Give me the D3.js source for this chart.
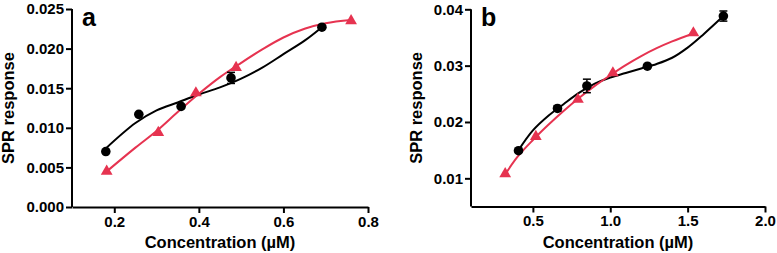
<!DOCTYPE html>
<html><head><meta charset="utf-8">
<script src="https://cdn.jsdelivr.net/npm/d3@7"></script>
<style>
html,body{margin:0;padding:0;background:#fff;}
svg text{font-family:"Liberation Sans",Arial,Helvetica,sans-serif;font-weight:bold;fill:#000;}
</style></head>
<body><svg id="c" width="777" height="253"></svg>
<script>
// Panel a data
const aBlackX = [0.18, 0.258, 0.358, 0.476, 0.691];
const aBlackY = [0.0070, 0.0117, 0.0127, 0.0163, 0.0227];
const aBlackErr = [0, 0, 0, 0.0007, 0];
const aRedX = [0.182, 0.304, 0.393, 0.488, 0.760];
const aRedY = [0.0045, 0.0094, 0.0144, 0.0176, 0.0235];
const aBlackFitX = [0.18, 0.25, 0.30, 0.35, 0.40, 0.45, 0.50, 0.55, 0.60, 0.65, 0.691];
const aBlackFitY = [0.0074, 0.0106, 0.0122, 0.0132, 0.0142, 0.0151, 0.0162, 0.0176, 0.0193, 0.0210, 0.0227];
const aRedFitX = [0.18, 0.25, 0.30, 0.35, 0.40, 0.45, 0.50, 0.55, 0.60, 0.65, 0.70, 0.76];
const aRedFitY = [0.0044, 0.0075, 0.0096, 0.0120, 0.0143, 0.0164, 0.0182, 0.0199, 0.0214, 0.0225, 0.0232, 0.0236];
const aXTicks = [0.2, 0.4, 0.6, 0.8];
const aYTicks = [0.000, 0.005, 0.010, 0.015, 0.020, 0.025];

// Panel b data
const bBlackX = [0.407, 0.659, 0.849, 1.240, 1.731];
const bBlackY = [0.0149, 0.0224, 0.0264, 0.0299, 0.0388];
const bBlackErr = [0, 0.0005, 0.0012, 0, 0.0009];
const bRedX = [0.321, 0.519, 0.791, 1.017, 1.537];
const bRedY = [0.0108, 0.0174, 0.0240, 0.0287, 0.0358];
const bBlackFitX = [0.407, 0.5, 0.6, 0.7, 0.8, 0.9, 1.0, 1.1, 1.2, 1.3, 1.4, 1.5, 1.6, 1.731];
const bBlackFitY = [0.0150, 0.0185, 0.0211, 0.0232, 0.0252, 0.0268, 0.0279, 0.0287, 0.0295, 0.0303, 0.0314, 0.0332, 0.0355, 0.0388];
const bRedFitX = [0.321, 0.4, 0.5, 0.6, 0.7, 0.8, 0.9, 1.0, 1.1, 1.2, 1.3, 1.4, 1.537];
const bRedFitY = [0.0107, 0.0138, 0.0168, 0.0195, 0.0220, 0.0243, 0.0264, 0.0283, 0.0301, 0.0317, 0.0331, 0.0343, 0.0357];
const bXTicks = [0.5, 1.0, 1.5, 2.0];
const bYTicks = [0.01, 0.02, 0.03, 0.04];

const RED = "#e63350";
const svg = d3.select("#c");

function panel(cfg) {
  const x = d3.scaleLinear().domain(cfg.xDom).range(cfg.xRange);
  const y = d3.scaleLinear().domain(cfg.yDom).range(cfg.yRange);
  const g = svg.append("g");

  const xa = g.append("g").attr("transform", `translate(0,${cfg.yRange[0]})`)
    .call(d3.axisBottom(x).tickValues(cfg.xTicks).tickFormat(d3.format(".1f")).tickSizeOuter(0).tickSizeInner(6).tickPadding(3));
  const ya = g.append("g").attr("transform", `translate(${cfg.xRange[0]},0)`)
    .call(d3.axisLeft(y).tickValues(cfg.yTicks).tickFormat(d3.format(cfg.yFmt)).tickSizeOuter(0).tickSizeInner(6).tickPadding(2));
  [xa, ya].forEach(a => {
    a.selectAll("path,line").attr("stroke", "#000").attr("stroke-width", 2);
    a.selectAll("text").style("font-size", "15px");
  });
  ya.select(".domain").attr("d", `M0,${cfg.yRange[0]}V${y(cfg.yTicks[cfg.yTicks.length-1])}`);

  g.append("text").attr("x", cfg.xRange[0] + 10).attr("y", 26).style("font-size", "25px").text(cfg.label);
  g.append("text").attr("x", (cfg.xRange[0] + cfg.xRange[1]) / 2).attr("y", 248)
    .attr("text-anchor", "middle").style("font-size", "16.5px").text("Concentration (µM)");
  g.append("text").attr("transform", `translate(${cfg.titleX},${(cfg.yRange[0] + cfg.yRange[1]) / 2}) rotate(-90)`)
    .attr("text-anchor", "middle").style("font-size", "16.5px").text("SPR response");

  const line = d3.line().x(d => x(d[0])).y(d => y(d[1])).curve(d3.curveCatmullRom.alpha(0.5));
  g.append("path").datum(d3.zip(cfg.bFitX, cfg.bFitY)).attr("d", line)
    .attr("fill", "none").attr("stroke", "#000").attr("stroke-width", 2);
  g.append("path").datum(d3.zip(cfg.rFitX, cfg.rFitY)).attr("d", line)
    .attr("fill", "none").attr("stroke", RED).attr("stroke-width", 2);

  // error bars
  const eb = d3.zip(cfg.bX, cfg.bY, cfg.bErr).filter(d => d[2] > 0);
  const ebg = g.append("g").attr("stroke", "#000").attr("stroke-width", 1.5);
  eb.forEach(d => {
    ebg.append("line").attr("x1", x(d[0])).attr("x2", x(d[0])).attr("y1", y(d[1] - d[2])).attr("y2", y(d[1] + d[2]));
    [d[1] - d[2], d[1] + d[2]].forEach(v => ebg.append("line").attr("x1", x(d[0]) - 4).attr("x2", x(d[0]) + 4).attr("y1", y(v)).attr("y2", y(v)));
  });

  g.append("g").selectAll("path").data(d3.zip(cfg.rX, cfg.rY)).join("path")
    .attr("transform", d => `translate(${x(d[0])},${y(d[1])})`)
    .attr("d", d3.symbol(d3.symbolTriangle, 60)).attr("fill", RED);
  g.append("g").selectAll("circle").data(d3.zip(cfg.bX, cfg.bY)).join("circle")
    .attr("cx", d => x(d[0])).attr("cy", d => y(d[1])).attr("r", 4.8).attr("fill", "#000");
}

panel({xDom: [0.1, 0.8], xRange: [72, 368], yDom: [0, 0.025], yRange: [207, 9],
  xTicks: aXTicks, yTicks: aYTicks, yFmt: ".3f", label: "a", titleX: 14,
  bX: aBlackX, bY: aBlackY, bErr: aBlackErr, rX: aRedX, rY: aRedY,
  bFitX: aBlackFitX, bFitY: aBlackFitY, rFitX: aRedFitX, rFitY: aRedFitY});
panel({xDom: [0.1, 2.0], xRange: [471, 765], yDom: [0.005, 0.04], yRange: [206.5, 9.3],
  xTicks: bXTicks, yTicks: bYTicks, yFmt: ".2f", label: "b", titleX: 422,
  bX: bBlackX, bY: bBlackY, bErr: bBlackErr, rX: bRedX, rY: bRedY,
  bFitX: bBlackFitX, bFitY: bBlackFitY, rFitX: bRedFitX, rFitY: bRedFitY});
</script></body></html>
